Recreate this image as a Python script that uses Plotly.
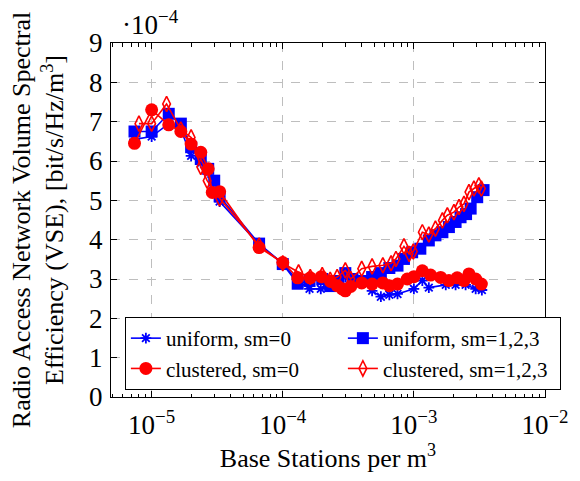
import plotly.graph_objects as go

# ---- data (values in units of 1e-4 bit/s/Hz/m^3) ----
x_uni0 = [7.4e-6, 1.0e-5, 1.35e-5, 1.67e-5, 2.0e-5, 2.37e-5, 2.7e-5, 3.3e-5, 6.6e-5, 1.0e-4,
          1.3e-4, 1.6e-4, 1.95e-4, 2.3e-4, 2.65e-4, 3.0e-4, 3.4e-4, 4.0e-4, 4.8e-4, 5.6e-4,
          6.5e-4, 7.5e-4, 1.0e-3, 1.16e-3, 1.3e-3, 1.75e-3, 2.08e-3, 2.48e-3, 2.96e-3, 3.3e-3]
y_uni0 = [6.55, 6.62, 6.95, 6.80, 6.13, 5.95, 5.70, 4.97, 3.88, 3.40,
          2.95, 2.75, 2.75, 2.85, 2.95, 3.05, 2.95, 2.95, 2.70, 2.55,
          2.60, 2.62, 2.75, 2.96, 2.78, 2.85, 2.85, 2.85, 2.75, 2.72]

x_uni123 = [7.4e-6, 1.0e-5, 1.35e-5, 1.67e-5, 2.0e-5, 2.37e-5, 2.7e-5, 3.0e-5, 3.3e-5, 6.6e-5,
            1.0e-4, 1.3e-4, 1.6e-4, 2.0e-4, 2.3e-4, 2.65e-4, 3.0e-4, 3.4e-4, 4.0e-4, 4.8e-4,
            5.6e-4, 6.5e-4, 7.5e-4, 8.4e-4, 9.7e-4, 1.12e-3, 1.3e-3, 1.46e-3, 1.65e-3, 1.85e-3,
            2.08e-3, 2.27e-3, 2.5e-3, 2.71e-3, 3.04e-3, 3.4e-3]
y_uni123 = [6.75, 6.75, 7.20, 6.95, 6.35, 6.05, 5.80, 5.50, 5.10, 3.90,
            3.38, 2.88, 2.95, 3.00, 2.82, 2.95, 3.15, 3.00, 2.95, 3.05,
            3.15, 3.28, 3.34, 3.51, 3.68, 3.77, 3.98, 4.11, 4.19, 4.32,
            4.45, 4.57, 4.65, 4.79, 5.08, 5.26]

x_clu0 = [7.4e-6, 1.0e-5, 1.35e-5, 1.67e-5, 2.0e-5, 2.37e-5, 2.7e-5, 2.9e-5, 3.3e-5, 6.6e-5,
          1.0e-4, 1.3e-4, 1.62e-4, 1.97e-4, 2.31e-4, 2.6e-4, 2.84e-4, 3.0e-4, 3.3e-4, 4.0e-4,
          4.8e-4, 5.8e-4, 6.5e-4, 7.5e-4, 8.9e-4, 1.0e-3, 1.16e-3, 1.34e-3, 1.6e-3, 1.85e-3,
          2.14e-3, 2.41e-3, 2.63e-3, 2.96e-3, 3.27e-3]
y_clu0 = [6.45, 7.30, 6.92, 6.75, 6.43, 6.22, 5.80, 5.20, 5.22, 3.80,
          3.42, 3.03, 3.03, 3.06, 2.94, 2.83, 2.75, 2.70, 2.81, 2.90,
          2.87, 2.90, 2.83, 2.87, 3.00, 3.06, 3.21, 3.10, 3.04, 2.96,
          3.03, 2.96, 3.13, 3.00, 2.87]

x_clu123 = [8.0e-6, 1.0e-5, 1.3e-5, 1.67e-5, 2.0e-5, 2.37e-5, 2.65e-5, 3.3e-5, 6.6e-5, 1.0e-4,
            1.32e-4, 1.62e-4, 2.0e-4, 2.3e-4, 2.6e-4, 3.0e-4, 3.3e-4, 4.0e-4, 4.8e-4, 5.8e-4,
            6.7e-4, 7.3e-4, 8.4e-4, 9.2e-4, 9.9e-4, 1.16e-3, 1.3e-3, 1.46e-3, 1.65e-3, 1.8e-3,
            2.02e-3, 2.21e-3, 2.41e-3, 2.63e-3, 2.87e-3, 3.13e-3, 3.27e-3]
y_clu123 = [6.95, 6.95, 7.45, 6.80, 6.60, 5.85, 5.50, 5.05, 3.85, 3.40,
            3.17, 3.05, 3.10, 2.98, 3.05, 3.22, 3.00, 3.26, 3.32, 3.35,
            3.40, 3.51, 3.83, 3.64, 3.70, 4.19, 4.13, 4.28, 4.49, 4.62,
            4.70, 4.83, 4.91, 5.21, 5.30, 5.38, 5.30]

names = ["uniform, sm=0", "uniform, sm=1,2,3", "clustered, sm=0", "clustered, sm=1,2,3"]
x_tickvals = [1e-5, 1e-4, 1e-3, 1e-2]
x_ticktext = ["10<sup>−5</sup>", "10<sup>−4</sup>", "10<sup>−3</sup>", "10<sup>−2</sup>"]
x_minor = [m * 10.0 ** e for e in range(-6, -2) for m in range(2, 10)]

FONT = "Liberation Serif"
BLUE = "rgb(0,0,255)"
RED = "rgb(255,0,0)"

fig = go.Figure()
fig.add_trace(go.Scatter(x=x_uni0, y=y_uni0, name=names[0], mode="lines+markers",
                         line=dict(color=BLUE, width=1.6),
                         marker=dict(symbol="asterisk-open", size=9, color=BLUE,
                                     line=dict(color=BLUE, width=1.8))))
fig.add_trace(go.Scatter(x=x_uni123, y=y_uni123, name=names[1], mode="lines+markers",
                         line=dict(color=BLUE, width=1.6),
                         marker=dict(symbol="square", size=12, color=BLUE,
                                     line=dict(width=0))))
fig.add_trace(go.Scatter(x=x_clu0, y=y_clu0, name=names[2], mode="lines+markers",
                         line=dict(color=RED, width=1.6),
                         marker=dict(symbol="circle", size=13, color=RED,
                                     line=dict(width=0))))
fig.add_trace(go.Scatter(x=x_clu123, y=y_clu123, name=names[3], mode="lines+markers",
                         line=dict(color=RED, width=1.6),
                         marker=dict(symbol="diamond-tall-open", size=11, color=RED,
                                     line=dict(color=RED, width=1.6))))

fig.update_layout(
    width=580, height=481,
    margin=dict(l=111, r=35, t=43, b=84),
    paper_bgcolor="white", plot_bgcolor="white",
    font=dict(family=FONT, size=26, color="black"),
    showlegend=True,
    legend=dict(orientation="h", x=0.032, xanchor="left", y=0.226, yanchor="top",
                entrywidth=172, entrywidthmode="pixels",
                bordercolor="black", borderwidth=1, bgcolor="white",
                font=dict(family=FONT, size=21, color="black"),
                tracegroupgap=0, itemsizing="trace"),
)

fig.update_xaxes(
    type="log", range=[-5.31, -2],
    tickvals=x_tickvals, ticktext=x_ticktext,
    ticks="inside", ticklen=6, tickcolor="black",
    showline=True, linecolor="black", linewidth=1, mirror="ticks",
    showgrid=True, gridcolor="rgb(190,190,190)", griddash="dash", gridwidth=1,
    zeroline=False,
    tickfont=dict(family=FONT, size=27),
    ticklabelstandoff=4,
    minor=dict(tickvals=x_minor, ticks="inside", ticklen=3.5, tickcolor="black", showgrid=False),
    title=dict(text="Base Stations per m<sup>3</sup>", font=dict(family=FONT, size=26), standoff=8),
)
fig.update_yaxes(
    range=[0, 9], dtick=1,
    ticks="inside", ticklen=6, tickcolor="black",
    showline=True, linecolor="black", linewidth=1, mirror="ticks",
    showgrid=True, gridcolor="rgb(190,190,190)", griddash="dash", gridwidth=1,
    zeroline=False,
    tickfont=dict(family=FONT, size=27),
    ticklabelstandoff=2,
    title=dict(text="Radio Access Network Volume Spectral<br>Efficiency (VSE), [bit/s/Hz/m<sup>3</sup>]",
               font=dict(family=FONT, size=26), standoff=17),
)

fig.add_annotation(text="·10<sup>−4</sup>", xref="paper", yref="paper", x=0.02, y=1.0,
                   xanchor="left", yanchor="bottom", showarrow=False, yshift=1,
                   font=dict(family=FONT, size=27, color="black"))

fig.write_html("out.html")
